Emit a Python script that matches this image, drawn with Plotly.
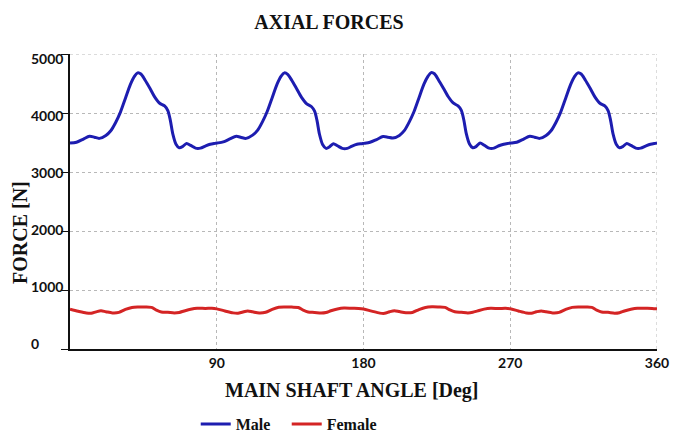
import plotly.graph_objects as go

# Shaft angle [deg] and axial force [N] for each series
male_angle = [
    0, 4, 8, 12, 15, 18, 22, 25, 28, 31, 34, 37, 39.5, 41.5, 43.5, 46, 49, 52, 55, 58, 60, 61.5, 63, 65, 67, 69, 71.5, 74, 77, 80, 83, 86, 89,
    90, 94, 98, 102, 105, 108, 112, 115, 118, 121, 124, 127, 129.5, 131.5, 133.5, 136, 139, 142, 145, 148, 150, 151.5, 153, 155, 157, 159, 161.5, 164, 167, 170, 173, 176, 179,
    180, 184, 188, 192, 195, 198, 202, 205, 208, 211, 214, 217, 219.5, 221.5, 223.5, 226, 229, 232, 235, 238, 240, 241.5, 243, 245, 247, 249, 251.5, 254, 257, 260, 263, 266, 269,
    270, 274, 278, 282, 285, 288, 292, 295, 298, 301, 304, 307, 309.5, 311.5, 313.5, 316, 319, 322, 325, 328, 330, 331.5, 333, 335, 337, 339, 341.5, 344, 347, 350, 353, 356, 359, 360,
]
male_force = [
    3490, 3505, 3555, 3605, 3590, 3570, 3620, 3700, 3840, 4020, 4250, 4480, 4620, 4680, 4660, 4560, 4420, 4270, 4165, 4120, 4040, 3880, 3650, 3470, 3410, 3430, 3485, 3450, 3405, 3405, 3440, 3470, 3485,
    3490, 3510, 3560, 3605, 3585, 3570, 3625, 3705, 3850, 4030, 4260, 4490, 4625, 4680, 4655, 4555, 4410, 4265, 4160, 4110, 4030, 3870, 3640, 3460, 3400, 3425, 3480, 3445, 3400, 3400, 3440, 3470, 3480,
    3485, 3505, 3550, 3600, 3590, 3575, 3620, 3700, 3845, 4025, 4255, 4485, 4620, 4685, 4665, 4560, 4420, 4275, 4170, 4120, 4045, 3885, 3655, 3475, 3410, 3430, 3490, 3455, 3405, 3405, 3445, 3470, 3485,
    3490, 3505, 3555, 3605, 3590, 3570, 3620, 3700, 3840, 4020, 4250, 4480, 4620, 4680, 4660, 4560, 4420, 4270, 4165, 4120, 4040, 3880, 3650, 3470, 3410, 3430, 3485, 3450, 3405, 3405, 3440, 3470, 3485, 3490,
]

female_angle = [
    0, 5, 10, 13, 16, 19, 22, 26, 30, 34, 38, 42, 46, 50, 53, 56, 60, 64, 67, 70, 74, 78, 83, 87,
    90, 95, 100, 103, 106, 109, 112, 116, 120, 124, 128, 132, 136, 140, 143, 146, 150, 154, 157, 160, 164, 168, 173, 177,
    180, 185, 190, 193, 196, 199, 202, 206, 210, 214, 218, 222, 226, 230, 233, 236, 240, 244, 247, 250, 254, 258, 263, 267,
    270, 275, 280, 283, 286, 289, 292, 296, 300, 304, 308, 312, 316, 320, 323, 326, 330, 334, 337, 340, 344, 348, 353, 357, 360,
]
female_force = [
    675, 640, 610, 605, 630, 648, 632, 612, 620, 670, 705, 712, 712, 706, 660, 628, 622, 612, 620, 645, 675, 692, 688, 690,
    680, 645, 612, 606, 628, 645, 630, 610, 622, 672, 708, 712, 710, 704, 658, 626, 620, 610, 618, 648, 678, 694, 690, 688,
    678, 642, 608, 604, 632, 650, 634, 614, 620, 668, 704, 714, 712, 706, 662, 630, 622, 612, 622, 646, 676, 690, 686, 690,
    682, 644, 610, 606, 630, 646, 630, 612, 620, 670, 706, 712, 710, 705, 660, 628, 622, 608, 616, 644, 674, 692, 690, 688, 680,
]

x_ticks = [90, 180, 270, 360]
y_ticks = [0, 1000, 2000, 3000, 4000, 5000]
y_tick_text = ["0", "1000", "2000", "3000", "4000", "5000"]

SERIF = "Liberation Serif"
SANS = "Lato"
GRID = "#b8b8b8"

fig = go.Figure()
fig.add_trace(go.Scatter(
    x=male_angle, y=male_force, name="Male", mode="lines",
    line=dict(color="#1d1db0", width=3, shape="spline", smoothing=0.8),
))
fig.add_trace(go.Scatter(
    x=female_angle, y=female_force, name="Female", mode="lines",
    line=dict(color="#d42424", width=3, shape="spline", smoothing=0.8),
))

# Dotted grid lines along the far edges of the plot (top and right)
fig.add_shape(type="line", xref="x", yref="y", x0=0, x1=360, y0=y_ticks[-1], y1=y_ticks[-1],
              line=dict(color=GRID, width=1, dash="dot"), layer="below")
fig.add_shape(type="line", xref="x", yref="y", x0=x_ticks[-1], x1=x_ticks[-1], y0=0, y1=y_ticks[-1],
              line=dict(color=GRID, width=1, dash="dot"), layer="below")

# Left-aligned force labels beside the y axis
for v, t in zip(y_ticks, y_tick_text):
    shift = -4 + 10 * (1 - v / 5000)
    fig.add_annotation(
        x=-0.07, xref="paper", xanchor="left",
        y=v, yref="y", yanchor="middle", yshift=shift,
        text=t, showarrow=False,
        font=dict(family=SANS, size=14, color="#111", weight="bold"),
    )

# Axis titles
fig.add_annotation(
    x=-0.0852, xref="paper", y=0.3966, yref="paper",
    text="FORCE [N]", textangle=-90, showarrow=False,
    xanchor="center", yanchor="middle",
    font=dict(family=SERIF, size=20, color="#111", weight="bold"),
)
fig.add_annotation(
    x=0.481, xref="paper", y=-0.139, yref="paper",
    text="MAIN SHAFT ANGLE [Deg]", showarrow=False,
    xanchor="center", yanchor="middle",
    font=dict(family=SERIF, size=20, color="#111", weight="bold"),
)

fig.update_layout(
    width=682, height=434,
    margin=dict(l=70, r=25, t=54, b=85, autoexpand=False),
    paper_bgcolor="white", plot_bgcolor="white",
    title=dict(
        text="AXIAL FORCES", x=0.4824, xref="container", xanchor="center",
        y=0.949, yref="container", yanchor="middle",
        font=dict(family=SERIF, size=20, color="#111", weight="bold"),
    ),
    showlegend=True,
    legend=dict(
        orientation="h", xref="container", x=0.287, xanchor="left",
        yref="container", y=0.023, yanchor="middle",
        font=dict(family=SERIF, size=16, color="#111", weight="bold"),
        bgcolor="rgba(0,0,0,0)", itemwidth=30, entrywidth=46,
    ),
)

fig.update_xaxes(
    range=[0, 360], tickvals=x_ticks, ticks="",
    showline=True, linecolor="#111", linewidth=2,
    showgrid=True, gridcolor=GRID, griddash="dot", gridwidth=1,
    zeroline=False,
    tickfont=dict(family=SANS, size=14, color="#111", weight="bold"),
)
fig.update_yaxes(
    range=[0, 5000], tickvals=y_ticks, showticklabels=False,
    ticks="outside", ticklen=7, tickcolor="#111", tickwidth=1,
    showline=True, linecolor="#111", linewidth=2,
    showgrid=True, gridcolor=GRID, griddash="dot", gridwidth=1,
    zeroline=False,
)

fig.write_html("out.html")
